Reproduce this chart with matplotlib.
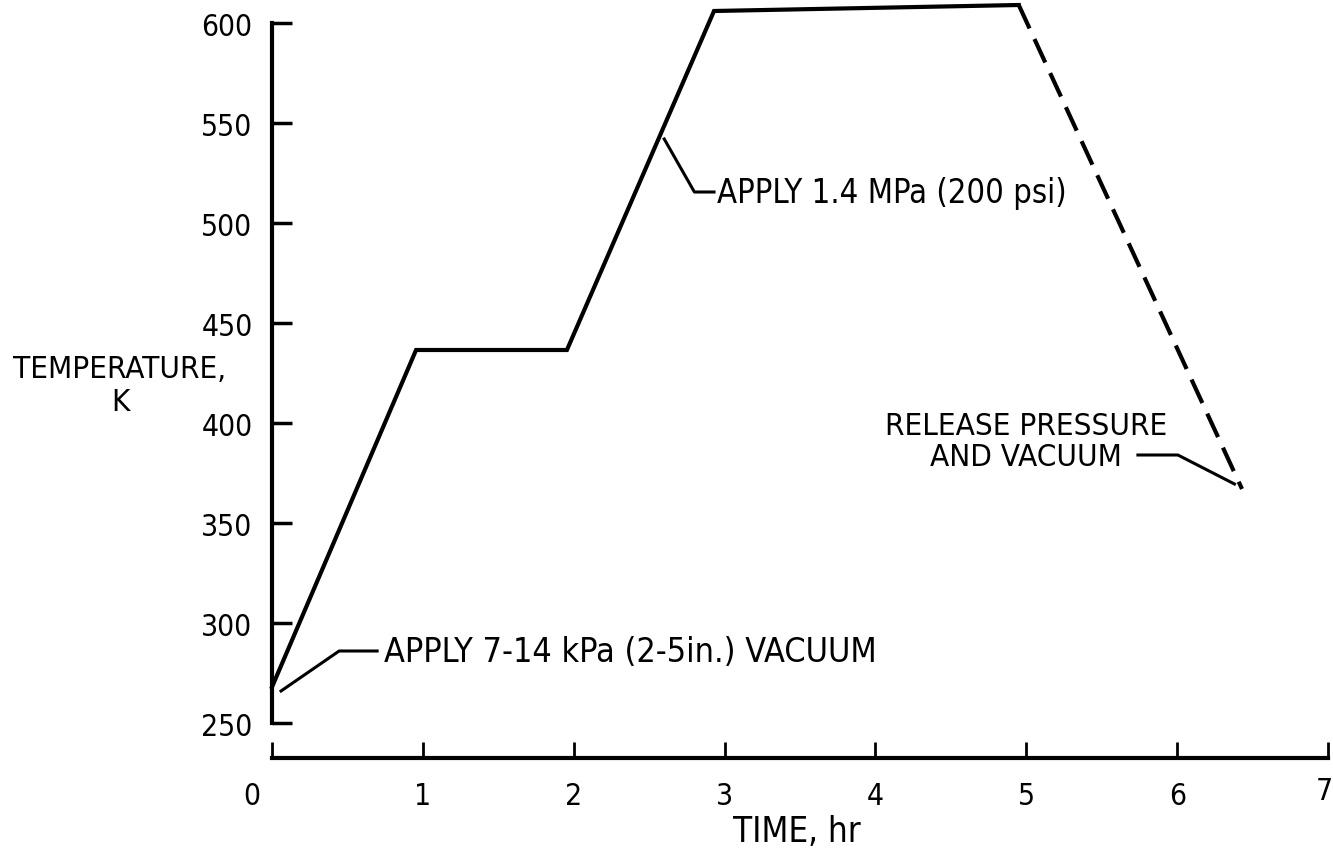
import matplotlib
matplotlib.use("Agg")
import matplotlib.pyplot as plt
from matplotlib import font_manager
from matplotlib.transforms import ScaledTranslation

# cure cycle
time_solid = [0.0, 0.955, 1.955, 2.93, 4.95]
temp_solid = [268, 436.5, 436.5, 606, 609]
time_dash = [4.95, 6.43]
temp_dash = [609, 367]

x_ticks = [0, 1, 2, 3, 4, 5, 6, 7]
y_ticks = [250, 300, 350, 400, 450, 500, 550, 600]

# leader lines for the notes
vac_lead_t = [0.06, 0.445, 0.697]
vac_lead_T = [266, 286, 286]
press_lead_t = [2.60, 2.80, 2.93]
press_lead_T = [542, 515.5, 515.5]
rel_lead_t = [5.74, 6.005, 6.38]
rel_lead_T = [384, 384, 369.5]

names = {f.name for f in font_manager.fontManager.ttflist}
fam = "Liberation Sans Narrow" if "Liberation Sans Narrow" in names else "DejaVu Sans"
plt.rcParams["font.family"] = [fam, "DejaVu Sans"]
if fam == "DejaVu Sans":
        plt.rcParams["font.stretch"] = "condensed"

W, H = 1333, 853
fig = plt.figure(figsize=(W / 100, H / 100), dpi=100)
# axes box: x 0..7 -> px 272..1328, y 250..600 -> px 724..24
ax = fig.add_axes([272 / W, (H - 724) / H, (1328 - 272) / W, 700 / H])
ax.set_xlim(0, 7)
ax.set_ylim(250, 600)

ax.plot(time_solid, temp_solid, color="black", lw=3.0, solid_joinstyle="miter", clip_on=False)
ax.plot(time_dash, temp_dash, color="black", lw=3.0, dashes=(6.2, 2.8), clip_on=False)

for tt, TT in [(vac_lead_t, vac_lead_T), (press_lead_t, press_lead_T), (rel_lead_t, rel_lead_T)]:
        ax.plot(tt, TT, color="black", lw=2.2, clip_on=False)

ax.text(0.743, 286, "APPLY 7-14 kPa (2-5in.) VACUUM", fontsize=24.5, va="center", ha="left")
ax.text(2.95, 515.5, "APPLY 1.4 MPa (200 psi)", fontsize=23.5, va="center", ha="left")
ax.text(5.0, 391, "RELEASE PRESSURE\nAND VACUUM", fontsize=22.5, va="center", ha="center",
        multialignment="center", linespacing=1.05)

for s in ["top", "right"]:
        ax.spines[s].set_visible(False)
ax.spines["left"].set_bounds(250, 600)
ax.spines["left"].set_linewidth(3.0)
ax.spines["bottom"].set_bounds(0, 7)
ax.spines["bottom"].set_linewidth(3.0)
ax.spines["bottom"].set_position(("outward", 25))

ax.set_xticks(x_ticks)
ax.set_xticklabels([str(v) for v in x_ticks])
ax.set_yticks(y_ticks)
ax.set_yticklabels([str(v) for v in y_ticks])
ax.tick_params(axis="x", direction="in", length=11.5, width=2.0, pad=17, labelsize=21.5)
ax.tick_params(axis="y", direction="in", length=14.5, width=2.5, pad=14, labelsize=21.5)

# the zero sits left of its tick in the original, the 7 hugs the edge
labs = ax.get_xticklabels()
labs[0].set_transform(labs[0].get_transform() + ScaledTranslation(-0.2, 0, fig.dpi_scale_trans))
labs[-1].set_transform(labs[-1].get_transform() + ScaledTranslation(-0.04, 0.05, fig.dpi_scale_trans))

ax.set_xlabel("TIME, hr", fontsize=25)
ax.xaxis.label.set_va("center")
ax.xaxis.set_label_coords((797 - 272) / 1056, (724 - 832) / 700)
ax.set_ylabel("TEMPERATURE,\nK", fontsize=22.5, rotation=0, ha="center", va="center",
        multialignment="center", linespacing=1.15)
ax.yaxis.set_label_coords((120 - 272) / 1056, (724 - 386) / 700)

fig.savefig("out.png", dpi=100)
